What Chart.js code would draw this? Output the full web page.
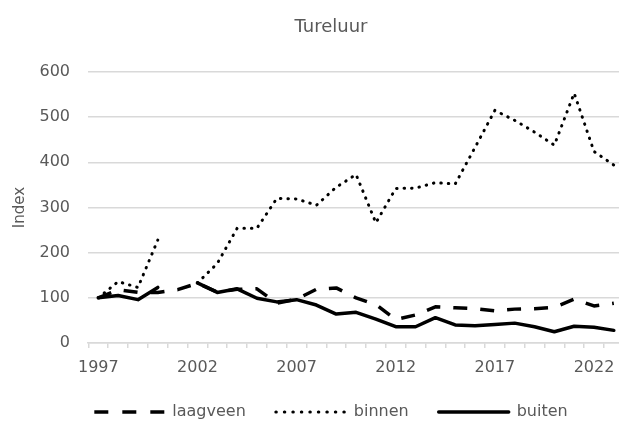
<!DOCTYPE html>
<html>
<head>
<meta charset="utf-8">
<script src="https://cdn.jsdelivr.net/npm/chart.js@4/dist/chart.umd.min.js"></script>
<style>
  html, body { margin: 0; padding: 0; overflow: hidden; background: #fff; }
</style>
</head>
<body>
<canvas id="mycanvas" width="662" height="430"></canvas>
<script>
// data
var years = [1997,1998,1999,2000,2001,2002,2003,2004,2005,2006,2007,2008,2009,2010,
	2011,2012,2013,2014,2015,2016,2017,2018,2019,2020,2021,2022,2023];
var laagveen = [100,118,112,112,118,132,113,119,120,88,97,119,122,100,
	85,52,62,80,78,76,71,75,76,79,97,82,88];
var binnen = [100,136,123,228,null,133,176,254,254,320,319,305,345,373,
	266,342,343,355,352,433,515,493,467,438,553,424,394];
var buiten = [100,105,96,123,null,133,112,120,99,91,96,84,64,68,
	53,36,36,56,40,38,41,44,36,25,37,35,28];
var yTicks = [0,100,200,300,400,500,600];

var grey = '#595959';
var gridGrey = '#d9d9d9';

Chart.defaults.font.family = 'DejaVu Sans';
Chart.defaults.color = grey;

// dash patterns used for the little legend lines
var legendDash = [[14, 14], [0.5, 8], []];

var chartdata = {
	labels: years,
	datasets: [
		{
			label: 'laagveen',
			data: laagveen,
			borderColor: '#000',
			backgroundColor: '#000',
			borderWidth: 3.5,
			borderDash: [14, 13],
			borderCapStyle: 'butt'
		},
		{
			label: 'binnen',
			data: binnen,
			borderColor: '#000',
			backgroundColor: '#000',
			borderWidth: 3,
			borderDash: [0.5, 7],
			borderCapStyle: 'round'
		},
		{
			label: 'buiten',
			data: buiten,
			borderColor: '#000',
			backgroundColor: '#000',
			borderWidth: 3.5,
			borderCapStyle: 'round'
		}
	]
};

var ctx = document.getElementById('mycanvas');

var linegraph = new Chart(ctx, {
	type: 'line',
	data: chartdata,
	options: {
		responsive: false,
		animation: false,
		devicePixelRatio: 1,
		spanGaps: false,
		elements: {
			point: { radius: 0, hoverRadius: 0 },
			line: { tension: 0, borderJoinStyle: 'round' }
		},
		layout: { padding: 0 },
		plugins: {
			title: {
				display: true,
				text: 'Tureluur',
				color: grey,
				font: { size: 18, weight: 'normal' },
				padding: { top: 17, bottom: 33.4 }
			},
			legend: {
				position: 'bottom',
				labels: {
					usePointStyle: true,
					pointStyle: 'line',
					pointStyleWidth: 70,
					boxWidth: 70,
					padding: 30,
					color: grey,
					font: { size: 16 },
					generateLabels: function(chart) {
						return chart.data.datasets.map(function(ds, i) {
							return {
								text: ds.label,
								datasetIndex: i,
								fillStyle: '#000',
								strokeStyle: '#000',
								fontColor: grey,
								lineWidth: ds.borderWidth,
								lineDash: legendDash[i],
								lineCap: ds.borderCapStyle,
								pointStyle: 'line',
								hidden: false
							};
						});
					}
				}
			},
			tooltip: { enabled: false }
		},
		scales: {
			x: {
				type: 'linear',
				min: 1996.48,
				max: 2025.43,
				afterBuildTicks: function(axis) {
					axis.ticks = years.map(function(y) { return { value: y }; });
				},
				afterFit: function(axis) { axis.height = 31; },
				grid: {
					offset: true,
					drawOnChartArea: false,
					drawTicks: true,
					tickLength: 5,
					color: gridGrey,
					lineWidth: 1.5
				},
				border: { display: true, color: gridGrey, width: 1.5 },
				ticks: {
					autoSkip: false,
					maxRotation: 0,
					padding: 10,
					font: { size: 16 },
					callback: function(v) {
						return (v - 1997) % 5 === 0 ? String(v) : '';
					}
				}
			},
			y: {
				min: 0,
				max: 600,
				afterBuildTicks: function(axis) {
					axis.ticks = yTicks.map(function(v) { return { value: v }; });
				},
				afterFit: function(axis) { axis.width = 88; },
				grid: { color: gridGrey, lineWidth: 1.5, drawTicks: false },
				border: { display: false },
				ticks: { padding: 18, font: { size: 16 } },
				title: {
					display: true,
					text: 'Index',
					color: grey,
					font: { size: 15 },
					padding: { top: 11, bottom: 0 }
				}
			}
		}
	}
});
</script>
</body>
</html>
